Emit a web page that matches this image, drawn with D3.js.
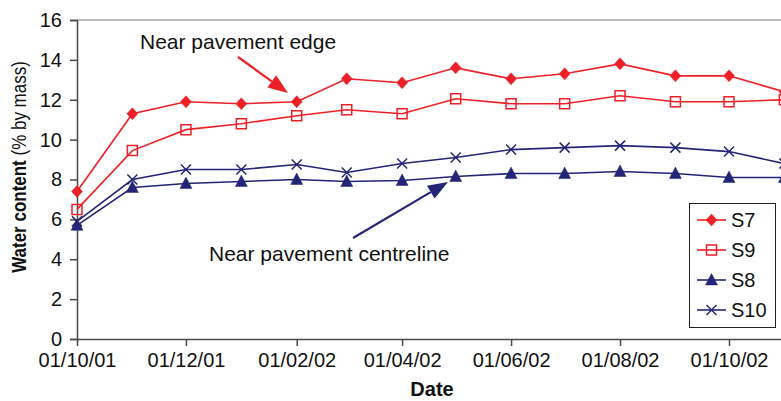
<!DOCTYPE html>
<html>
<head>
<meta charset="utf-8">
<script src="https://cdn.jsdelivr.net/npm/d3@7"></script>
<style>
  html, body { margin: 0; padding: 0; background: #fff; }
  svg { display: block; font-family: "Liberation Sans", Arial, sans-serif; }
</style>
</head>
<body>
<svg id="chart" width="781" height="401"></svg>
<script>
// ---- data ----
const dates = ["01/10/01","01/11/01","01/12/01","01/01/02","01/02/02","01/03/02","01/04/02",
               "01/05/02","01/06/02","01/07/02","01/08/02","01/09/02","01/10/02","01/11/02"];
const s7  = [7.4, 11.3, 11.9, 11.8, 11.9, 13.05, 12.85, 13.6, 13.05, 13.3, 13.8, 13.2, 13.2, 12.4];
const s9  = [6.5, 9.45, 10.5, 10.8, 11.2, 11.5, 11.3, 12.05, 11.8, 11.8, 12.2, 11.9, 11.9, 12.0];
const s8  = [5.7, 7.6, 7.8, 7.9, 8.0, 7.9, 7.95, 8.15, 8.3, 8.3, 8.4, 8.3, 8.1, 8.1];
const s10 = [5.9, 8.0, 8.5, 8.5, 8.75, 8.35, 8.8, 9.1, 9.5, 9.6, 9.7, 9.6, 9.4, 8.8];
const seriesNames = ["S7", "S9", "S8", "S10"];
const xTickLabels = ["01/10/01","01/12/01","01/02/02","01/04/02","01/06/02","01/08/02","01/10/02"];
const yTicks = [0, 2, 4, 6, 8, 10, 12, 14, 16];
const annotations = ["Near pavement edge", "Near pavement centreline"];

// ---- setup ----
const RED = "#ec2128", BLUE = "#252577";
const parse = d3.timeParse("%d/%m/%y");
const svg = d3.select("#chart");
const plotLeft = 77, plotTop = 20, plotBottom = 339;

const x = d3.scaleTime()
  .domain([parse("01/10/01"), parse("01/10/02")])
  .range([plotLeft, 729]);
const y = d3.scaleLinear().domain([0, 16]).range([plotBottom, plotTop]);

// top border
svg.append("line")
  .attr("x1", plotLeft).attr("x2", 781).attr("y1", plotTop).attr("y2", plotTop)
  .attr("stroke", "#a6a6a6").attr("stroke-width", 1.5);

// axes
const xAxis = svg.append("g").attr("transform", `translate(0,${plotBottom})`)
  .call(d3.axisBottom(x).tickValues(xTickLabels.map(parse))
    .tickFormat(d3.timeFormat("%d/%m/%y")).tickSizeOuter(0).tickSize(7).tickPadding(7));
xAxis.select(".domain").attr("d", `M${plotLeft},0.5H781`);
const yAxis = svg.append("g").attr("transform", `translate(${plotLeft},0)`)
  .call(d3.axisLeft(y).tickValues(yTicks).tickSizeOuter(0).tickSize(7).tickPadding(8));
[xAxis, yAxis].forEach(g => {
  g.select(".domain").attr("stroke", "#4a4a4a").attr("stroke-width", 1.5);
  g.selectAll(".tick line").attr("stroke", "#4a4a4a").attr("stroke-width", 1.5);
  g.selectAll(".tick text").attr("fill", "#111").style("font-size", "20px")
    .style("font-family", "'Liberation Sans', Arial, sans-serif");
});

// markers
function markerPath(type) {
  switch (type) {
    case "diamond": return "M0,-6L5.5,0L0,6L-5.5,0Z";
    case "square": return "M-5,-5H5V5H-5Z";
    case "triangle": return "M0,-6.5L6,5L-6,5Z";
    case "x": return "M-5,-5L5,5M5,-5L-5,5";
  }
}
const series = [
  {name: seriesNames[0], values: s7, color: RED, marker: "diamond", fill: RED},
  {name: seriesNames[1], values: s9, color: RED, marker: "square", fill: "none"},
  {name: seriesNames[2], values: s8, color: BLUE, marker: "triangle", fill: BLUE},
  {name: seriesNames[3], values: s10, color: BLUE, marker: "x", fill: "none"}
];
const line = d3.line().x((d, i) => x(parse(dates[i]))).y(d => y(d));
const drawOrder = [3, 2, 1, 0];
drawOrder.forEach(k => {
  const s = series[k];
  svg.append("path").attr("d", line(s.values)).attr("fill", "none")
    .attr("stroke", s.color).attr("stroke-width", 1.6);
});
drawOrder.forEach(k => {
  const s = series[k];
  svg.append("g").selectAll("path").data(s.values).join("path")
    .attr("transform", (d, i) => `translate(${x(parse(dates[i]))},${y(d)})`)
    .attr("d", markerPath(s.marker))
    .attr("fill", s.fill).attr("stroke", s.color)
    .attr("stroke-width", s.marker === "x" ? 1.5 : (s.marker === "square" ? 1.5 : 0.5));
});

// annotations
svg.append("text").attr("x", 140).attr("y", 49).text(annotations[0])
  .style("font-size", "21px").attr("fill", "#111");
svg.append("text").attr("x", 209).attr("y", 261).text(annotations[1])
  .style("font-size", "21px").attr("fill", "#111");

function arrow(x1, y1, x2, y2, color) {
  const ang = Math.atan2(y2 - y1, x2 - x1);
  const L = 20, W = 7.5;
  const bx = x2 - L * Math.cos(ang), by = y2 - L * Math.sin(ang);
  svg.append("line").attr("x1", x1).attr("y1", y1).attr("x2", bx).attr("y2", by)
    .attr("stroke", color).attr("stroke-width", 2.2);
  const px = -Math.sin(ang) * W, py = Math.cos(ang) * W;
  svg.append("path")
    .attr("d", `M${x2},${y2}L${bx + px},${by + py}L${bx - px},${by - py}Z`)
    .attr("fill", color);
}
arrow(238, 57, 288, 93, RED);
arrow(353, 238, 448, 182, BLUE);

// axis titles
svg.append("text").attr("x", 432).attr("y", 396).attr("text-anchor", "middle")
  .style("font-size", "20px").style("font-weight", "bold").attr("fill", "#111").text("Date");
const yt = svg.append("text").attr("transform", "translate(26,167) rotate(-90) scale(1,1.15)")
  .attr("text-anchor", "middle").style("font-size", "17px").attr("fill", "#111");
yt.append("tspan").style("font-weight", "bold").text("Water content");
yt.append("tspan").text(" (% by mass)");

// legend
const lg = svg.append("g");
lg.append("rect").attr("x", 689.5).attr("y", 203.5).attr("width", 86).attr("height", 124)
  .attr("fill", "#fff").attr("stroke", "#222").attr("stroke-width", 1);
series.forEach((s, i) => {
  const cy = 220 + i * 30;
  lg.append("line").attr("x1", 697).attr("x2", 726).attr("y1", cy).attr("y2", cy)
    .attr("stroke", s.color).attr("stroke-width", 1.6);
  lg.append("path").attr("transform", `translate(711.5,${cy})`).attr("d", markerPath(s.marker))
    .attr("fill", s.fill).attr("stroke", s.color)
    .attr("stroke-width", s.marker === "x" || s.marker === "square" ? 1.5 : 0.5);
  lg.append("text").attr("x", 731).attr("y", cy).attr("dy", "0.36em")
    .style("font-size", "20px").attr("fill", "#111").text(s.name);
});
</script>
</body>
</html>
